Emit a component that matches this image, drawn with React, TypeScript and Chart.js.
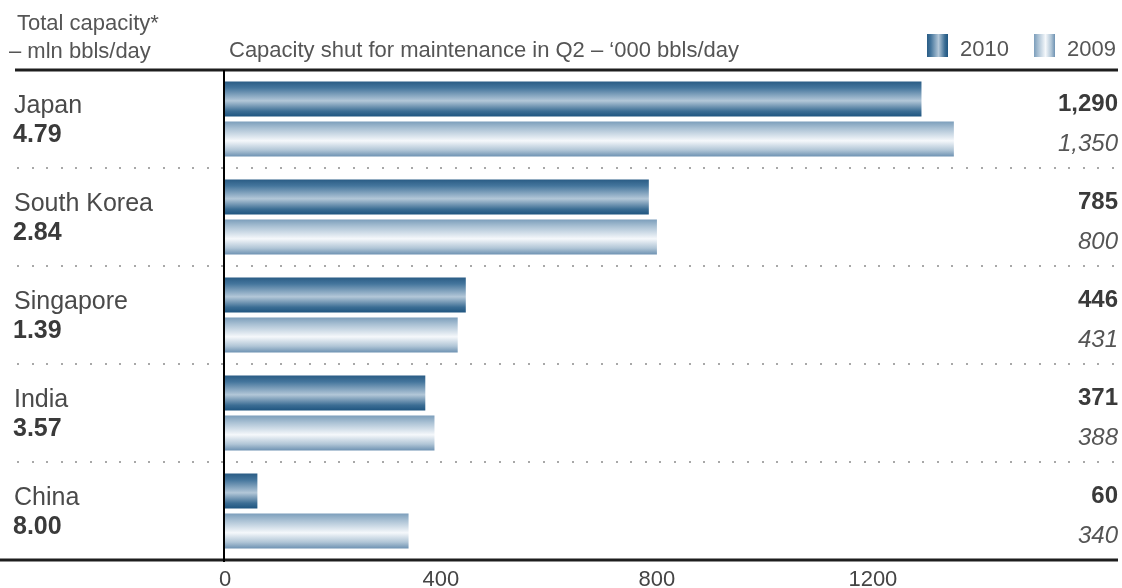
import React, { useEffect, useRef } from 'react';
import { Chart, registerables } from 'chart.js';

Chart.register(...registerables);

// ---------- data ----------
const countries = ['Japan', 'South Korea', 'Singapore', 'India', 'China'];
const totalCapacity = [4.79, 2.84, 1.39, 3.57, 8.0];
const shut2010 = [1290, 785, 446, 371, 60];
const shut2009 = [1350, 800, 431, 388, 340];
const seriesLabels = ['2010', '2009'];
const xTickValues = [0, 400, 800, 1200];
const xMax = 1654;
const leftTitle = ['Total capacity*', '\u2013 mln bbls/day'];
const mainTitle = 'Capacity shut for maintenance in Q2 \u2013 \u2018000 bbls/day';

// ---------- style ----------
const FONT = '"Liberation Sans", Arial, Helvetica, sans-serif';
const CAT_PCT = 0.816;
const BAR_PCT = 0.875;

const darkStops: [number, string][] = [
  [0, '#2a5c85'],
  [0.18, '#44759c'],
  [0.55, '#b3c7d8'],
  [0.85, '#3b6d94'],
  [1, '#1f5580'],
];
const lightStops: [number, string][] = [
  [0, '#7c9ebb'],
  [0.2, '#aac1d4'],
  [0.55, '#f5f8fb'],
  [0.82, '#b0c5d6'],
  [1, '#6e92b2'],
];

function barGradient(stops: [number, string][]) {
  return (c: any) => {
    const chart = c.chart;
    const ys = chart.scales && chart.scales.y;
    if (!ys || c.type !== 'data' || c.dataIndex === undefined) return stops[2][1];
    const n = chart.data.labels.length;
    const nds = chart.data.datasets.length;
    const catW = (ys.bottom - ys.top) / n;
    const slot = (catW * CAT_PCT) / nds;
    const center = ys.getPixelForValue(c.dataIndex);
    const barC = center - (catW * CAT_PCT) / 2 + slot * (c.datasetIndex + 0.5);
    const th = slot * BAR_PCT;
    const y0 = barC - th / 2;
    const y1 = barC + th / 2;
    if (!isFinite(y0) || !isFinite(y1) || th <= 0) return stops[2][1];
    const g = chart.ctx.createLinearGradient(0, y0, 0, y1);
    stops.forEach(([o, col]) => g.addColorStop(o, col));
    return g;
  };
}

const decorPlugin = {
  id: 'decor',
  beforeDatasetsDraw(chart: any) {
    const ctx = chart.ctx;
    const ys = chart.scales.y;
    const area = chart.chartArea;
    ctx.save();
    ctx.fillStyle = '#a8a8a8';
    for (let i = 0; i < countries.length - 1; i++) {
      const y = Math.round((ys.getPixelForValue(i) + ys.getPixelForValue(i + 1)) / 2);
      for (let x = 17; x < area.right; x += 14.6) {
        ctx.fillRect(Math.round(x), y - 1, 2, 2);
      }
    }
    ctx.restore();
  },
  afterDatasetsDraw(chart: any) {
    const ctx = chart.ctx;
    const ys = chart.scales.y;
    const area = chart.chartArea;
    ctx.save();

    // frame lines
    ctx.strokeStyle = '#1e1e1e';
    ctx.lineWidth = 3;
    ctx.beginPath();
    ctx.moveTo(15, area.top);
    ctx.lineTo(area.right, area.top);
    ctx.stroke();
    ctx.beginPath();
    ctx.moveTo(0, area.bottom);
    ctx.lineTo(area.right, area.bottom);
    ctx.stroke();
    ctx.lineWidth = 2;
    ctx.strokeStyle = '#000';
    ctx.beginPath();
    ctx.moveTo(area.left - 1, area.top);
    ctx.lineTo(area.left - 1, area.bottom + 2);
    ctx.stroke();

    // header texts
    ctx.fillStyle = '#555';
    ctx.textAlign = 'left';
    ctx.textBaseline = 'alphabetic';
    ctx.font = `22px ${FONT}`;
    ctx.fillText(leftTitle[0], 17, 30);
    ctx.fillText(leftTitle[1], 9, 58);
    ctx.fillText(mainTitle, 229, 57);

    // legend
    const legendItems = [
      { x: 927, stops: darkStops, text: seriesLabels[0] },
      { x: 1034, stops: lightStops, text: seriesLabels[1] },
    ];
    legendItems.forEach((it) => {
      const g = ctx.createLinearGradient(it.x, 0, it.x + 21, 0);
      it.stops.forEach(([o, col]) => g.addColorStop(o, col));
      ctx.fillStyle = g;
      ctx.fillRect(it.x, 34, 21, 23);
      ctx.fillStyle = '#555';
      ctx.font = `22px ${FONT}`;
      ctx.fillText(it.text, it.x + 33, 56);
    });

    // left labels
    countries.forEach((name, i) => {
      const c = ys.getPixelForValue(i);
      ctx.fillStyle = '#4a4a4a';
      ctx.font = `25px ${FONT}`;
      ctx.textAlign = 'left';
      ctx.fillText(name, 14, c - 6);
      ctx.fillStyle = '#3a3a3a';
      ctx.font = `bold 25px ${FONT}`;
      ctx.fillText(totalCapacity[i].toFixed(2), 13, c + 23);
    });

    // right value labels
    ctx.textAlign = 'right';
    chart.data.datasets.forEach((ds: any, di: number) => {
      const meta = chart.getDatasetMeta(di);
      meta.data.forEach((el: any, i: number) => {
        const v = ds.data[i];
        ctx.font = di === 0 ? `bold 24px ${FONT}` : `italic 24px ${FONT}`;
        ctx.fillStyle = di === 0 ? '#3a3a3a' : '#555';
        ctx.fillText(v.toLocaleString('en-US'), area.right, el.y + 12);
      });
    });
    ctx.restore();
  },
};

export default function App() {
  const ref = useRef<HTMLCanvasElement | null>(null);
  useEffect(() => {
    if (!ref.current) return;
    const chart = new Chart(ref.current, {
      type: 'bar',
      data: {
        labels: countries,
        datasets: [
          {
            label: seriesLabels[0],
            data: shut2010,
            backgroundColor: barGradient(darkStops),
            borderWidth: 0,
            categoryPercentage: CAT_PCT,
            barPercentage: BAR_PCT,
          },
          {
            label: seriesLabels[1],
            data: shut2009,
            backgroundColor: barGradient(lightStops),
            borderWidth: 0,
            categoryPercentage: CAT_PCT,
            barPercentage: BAR_PCT,
          },
        ],
      },
      options: {
        indexAxis: 'y',
        responsive: false,
        animation: false,
        devicePixelRatio: 1,
        layout: { padding: { left: 225, top: 70, right: 4, bottom: 0 } },
        plugins: {
          legend: { display: false },
          tooltip: { enabled: false },
          title: { display: false },
        },
        scales: {
          y: { display: false },
          x: {
            type: 'linear',
            min: 0,
            max: xMax,
            grid: { display: false, drawTicks: false },
            border: { display: false },
            afterBuildTicks: (axis: any) => {
              axis.ticks = xTickValues.map((v) => ({ value: v }));
            },
            afterFit: (axis: any) => {
              axis.height = 28;
            },
            ticks: {
              padding: 7,
              color: '#444',
              font: { family: FONT, size: 22 },
              maxRotation: 0,
              autoSkip: false,
              callback: (v: any) => String(v),
            },
          },
        },
      },
      plugins: [decorPlugin],
    });
    return () => chart.destroy();
  }, []);
  return (
    <div style={{ position: 'fixed', left: 0, top: 0, width: 1122, height: 588, background: '#fff' }}>
      <canvas ref={ref} width={1122} height={588} />
    </div>
  );
}
